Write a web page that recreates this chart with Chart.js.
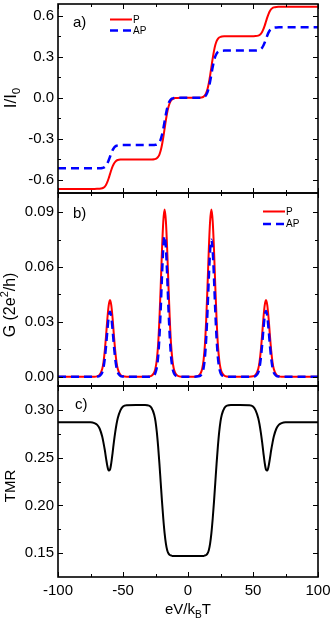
<!DOCTYPE html>
<html>
<head>
<meta charset="utf-8">
<script src="https://cdn.jsdelivr.net/npm/chart.js@4.4.0/dist/chart.umd.min.js"></script>
<style>
html, body { margin: 0; padding: 0; background: #fff; }
#wrap { position: relative; width: 332px; height: 621px; overflow: hidden; }
canvas { position: absolute; left: 0; }
</style>
</head>
<body>
<div id="wrap">
  <canvas id="cA" width="332" height="197" style="top:0px"></canvas>
  <canvas id="cB" width="332" height="200" style="top:190px"></canvas>
  <canvas id="cC" width="332" height="238" style="top:383px"></canvas>
</div>
<script>
// bias eV/kBT (shared by all three panels)
var biasX = [-100,-85,-75,-72,-70,-68,-66,-65,-64,-63,-62,-61,-60,-59,-58,-57,-56,-55,-54,-52,-50,-47,-40,-33,-30,-28,-26,-25,-24,-23,-22,-21,-20,-19,-18,-17,-16,-15,-14,-13,-12,-11,-10,-8,-5,
  0,
  5,8,10,11,12,13,14,15,16,17,18,19,20,21,22,23,24,25,26,28,30,33,40,47,50,52,54,55,56,57,58,59,60,61,62,63,64,65,66,68,70,72,75,85,100];

// a) current I/I0
var currentP = [-0.665,-0.665,-0.665,-0.665,-0.6648,-0.6641,-0.6606,-0.6561,-0.6478,-0.634,-0.6138,-0.5876,-0.5575,-0.5274,-0.5012,-0.481,-0.4672,-0.459,-0.4544,-0.4509,-0.4502,-0.45,-0.45,-0.45,-0.45,-0.4497,-0.4481,-0.4456,-0.4407,-0.4313,-0.414,-0.3852,-0.3429,-0.288,-0.225,-0.162,-0.1071,-0.0648,-0.036,-0.0187,-0.0093,-0.0044,-0.0019,-0.0003,0,
  0,
  0,0.0003,0.0019,0.0044,0.0093,0.0187,0.036,0.0648,0.1071,0.162,0.225,0.288,0.3429,0.3852,0.414,0.4313,0.4407,0.4456,0.4481,0.4497,0.45,0.45,0.45,0.45,0.4502,0.4509,0.4544,0.459,0.4672,0.481,0.5012,0.5274,0.5575,0.5876,0.6138,0.634,0.6478,0.6561,0.6606,0.6641,0.6648,0.665,0.665,0.665,0.665];
var currentAP = [-0.515,-0.515,-0.515,-0.515,-0.515,-0.5147,-0.5129,-0.5101,-0.5045,-0.4943,-0.4779,-0.4558,-0.43,-0.4042,-0.3821,-0.3657,-0.3555,-0.3499,-0.3471,-0.3453,-0.345,-0.345,-0.345,-0.345,-0.345,-0.345,-0.3443,-0.3432,-0.3407,-0.335,-0.3236,-0.3029,-0.2698,-0.2249,-0.1725,-0.1201,-0.0752,-0.0421,-0.0214,-0.01,-0.0043,-0.0018,-0.0007,0,0,
  0,
  0,0,0.0007,0.0018,0.0043,0.01,0.0214,0.0421,0.0752,0.1201,0.1725,0.2249,0.2698,0.3029,0.3236,0.335,0.3407,0.3432,0.3443,0.345,0.345,0.345,0.345,0.345,0.345,0.3453,0.3471,0.3499,0.3555,0.3657,0.3821,0.4042,0.43,0.4558,0.4779,0.4943,0.5045,0.5101,0.5129,0.5147,0.515,0.515,0.515,0.515,0.515];

// b) conductance G (2e^2/h)
var condP = [0,0,0,0,0.0002,0.001,0.0042,0.008,0.0143,0.0227,0.0319,0.0391,0.042,0.0391,0.0319,0.0227,0.0143,0.008,0.0042,0.001,0.0002,0,0,0,0.0001,0.0005,0.0023,0.0046,0.0092,0.0174,0.0311,0.0494,0.0695,0.0851,0.0915,0.0851,0.0695,0.0494,0.0311,0.0174,0.0092,0.0046,0.0023,0.0005,0,
  0,
  0,0.0005,0.0023,0.0046,0.0092,0.0174,0.0311,0.0494,0.0695,0.0851,0.0915,0.0851,0.0695,0.0494,0.0311,0.0174,0.0092,0.0046,0.0023,0.0005,0.0001,0,0,0,0.0002,0.001,0.0042,0.008,0.0143,0.0227,0.0319,0.0391,0.042,0.0391,0.0319,0.0227,0.0143,0.008,0.0042,0.001,0.0002,0,0,0,0];
var condAP = [0,0,0,0,0.0001,0.0004,0.0023,0.005,0.01,0.0171,0.0256,0.0328,0.0356,0.0328,0.0256,0.0171,0.01,0.005,0.0023,0.0004,0.0001,0,0,0,0,0.0002,0.0009,0.0022,0.005,0.0108,0.0216,0.037,0.0554,0.0708,0.077,0.0708,0.0554,0.037,0.0216,0.0108,0.005,0.0022,0.0009,0.0002,0,
  0,
  0,0.0002,0.0009,0.0021,0.0049,0.0105,0.021,0.036,0.054,0.069,0.075,0.069,0.054,0.036,0.021,0.0105,0.0049,0.0021,0.0009,0.0002,0,0,0,0,0.0001,0.0004,0.0023,0.005,0.0101,0.0173,0.0259,0.0331,0.036,0.0331,0.0259,0.0173,0.0101,0.005,0.0023,0.0004,0.0001,0,0,0,0];

// c) TMR
var tmr = [0.287,0.287,0.287,0.2862,0.2845,0.2805,0.272,0.2655,0.258,0.249,0.241,0.2365,0.2375,0.2445,0.255,0.2665,0.2765,0.285,0.2915,0.2995,0.3035,0.3048,0.305,0.305,0.3045,0.302,0.295,0.288,0.277,0.262,0.244,0.224,0.204,0.186,0.171,0.16,0.153,0.1495,0.148,0.1475,0.147,0.147,0.147,0.147,0.147,
  0.147,
  0.147,0.147,0.147,0.147,0.147,0.1475,0.148,0.1495,0.153,0.16,0.171,0.186,0.204,0.224,0.244,0.262,0.277,0.288,0.295,0.302,0.3045,0.305,0.305,0.3048,0.3035,0.2995,0.2915,0.285,0.2765,0.2665,0.255,0.2445,0.2375,0.2365,0.241,0.249,0.258,0.2655,0.272,0.2805,0.2845,0.2862,0.287,0.287,0.287];

// ticks
var xMajor = [-100, -50, 0, 50, 100];
var xMinor = [-75, -25, 25, 75];
var yMajorA = [-0.6, -0.3, 0, 0.3, 0.6];
var yMinorA = [-0.45, -0.15, 0.15, 0.45];
var yMajorB = [0, 0.03, 0.06, 0.09];
var yMinorB = [0.015, 0.045, 0.075];
var yMajorC = [0.15, 0.2, 0.25, 0.3];
var yMinorC = [0.175, 0.225, 0.275];

var FONT = '"Liberation Sans", Arial, Helvetica, sans-serif';

function pts(ys) {
  return biasX.map(function (x, i) { return { x: x, y: ys[i] }; });
}

function richText(ctx, parts, x, y, size, rotate) {
  ctx.save();
  ctx.translate(x, y);
  if (rotate) ctx.rotate(-Math.PI / 2);
  var w = 0;
  parts.forEach(function (p) {
    ctx.font = (p[1] ? size * 0.68 : size) + 'px ' + FONT;
    w += ctx.measureText(p[0]).width;
  });
  var cx = -w / 2;
  ctx.textBaseline = 'middle';
  ctx.textAlign = 'left';
  ctx.fillStyle = '#000';
  parts.forEach(function (p) {
    var s = p[1] ? size * 0.68 : size;
    ctx.font = s + 'px ' + FONT;
    var dy = p[1] === 'sub' ? size * 0.32 : (p[1] === 'sup' ? -size * 0.35 : 0);
    ctx.fillText(p[0], cx, dy);
    cx += ctx.measureText(p[0]).width;
  });
  ctx.restore();
}

function line(ctx, x1, y1, x2, y2) {
  ctx.beginPath(); ctx.moveTo(x1, y1); ctx.lineTo(x2, y2); ctx.stroke();
}

function panelPlugin(p) {
  return {
    id: 'panel' + p.tag,
    afterDraw: function (chart) {
      var ctx = chart.ctx, a = chart.chartArea, xs = chart.scales.x, ys = chart.scales.y;
      ctx.save();
      ctx.strokeStyle = '#000';
      ctx.lineWidth = 1;
      // inward ticks on all four sides
      xMajor.concat(xMinor).forEach(function (v) {
        var px = Math.round(xs.getPixelForValue(v)) + 0.5;
        var len = xMajor.indexOf(v) >= 0 ? 5 : 3;
        line(ctx, px, a.bottom, px, a.bottom - len);
        line(ctx, px, a.top, px, a.top + len);
      });
      p.yMajor.concat(p.yMinor).forEach(function (v) {
        var py = Math.round(ys.getPixelForValue(v)) + 0.5;
        var len = p.yMajor.indexOf(v) >= 0 ? 5 : 3;
        line(ctx, a.left, py, a.left + len, py);
        line(ctx, a.right, py, a.right - len, py);
      });
      ctx.lineWidth = 1.6;
      ctx.strokeRect(a.left, a.top, a.right - a.left, a.bottom - a.top);

      // y tick labels
      ctx.fillStyle = '#000';
      ctx.font = '15px ' + FONT;
      ctx.textAlign = 'right';
      ctx.textBaseline = 'middle';
      p.yMajor.forEach(function (v) {
        ctx.fillText(v.toFixed(p.dec), a.left - 4, ys.getPixelForValue(v));
      });
      // x tick labels
      if (p.xLabels) {
        ctx.textAlign = 'center';
        xMajor.forEach(function (v) {
          ctx.fillText(String(v), xs.getPixelForValue(v), a.bottom + 14);
        });
        richText(ctx, [['eV/k', ''], ['B', 'sub'], ['T', '']], (a.left + a.right) / 2, a.bottom + 33, 15, false);
      }
      // y title
      richText(ctx, p.title, 11, p.titleY, p.titleSize, true);
      // panel label
      ctx.font = '15px ' + FONT;
      ctx.textAlign = 'left';
      ctx.textBaseline = 'middle';
      ctx.fillText(p.label, p.labelX, p.labelY);
      // legend
      if (p.legend) {
        chart.data.datasets.slice().reverse().forEach(function (ds, i) {
          var ly = p.legend.y + i * p.legend.gap;
          ctx.strokeStyle = ds.borderColor;
          ctx.lineWidth = ds.borderWidth;
          ctx.setLineDash(ds.borderDash || []);
          line(ctx, p.legend.x, ly, p.legend.x + 22, ly);
          ctx.setLineDash([]);
          ctx.fillStyle = '#000';
          ctx.font = '10px ' + FONT;
          ctx.fillText(ds.label, p.legend.x + 23, ly + 0.5);
        });
      }
      ctx.restore();
    }
  };
}

function makePanel(id, p) {
  return new Chart(document.getElementById(id), {
    type: 'line',
    data: { datasets: p.datasets },
    options: {
      responsive: false,
      animation: false,
      devicePixelRatio: 1,
      layout: { padding: { left: 58, right: 14, top: p.padTop, bottom: p.padBottom } },
      plugins: { legend: { display: false }, tooltip: { enabled: false } },
      elements: { point: { radius: 0 }, line: { cubicInterpolationMode: 'monotone', fill: false } },
      scales: {
        x: { type: 'linear', min: -100, max: 100, display: false },
        y: { type: 'linear', min: p.yMin, max: p.yMax, display: false }
      }
    },
    plugins: [panelPlugin(p)]
  });
}

makePanel('cA', {
  tag: 'A', padTop: 4, padBottom: 4, yMin: -0.695, yMax: 0.6855,
  yMajor: yMajorA, yMinor: yMinorA, dec: 1,
  title: [['I/I', ''], ['0', 'sub']], titleY: 98, titleSize: 17,
  label: 'a)', labelX: 73, labelY: 23,
  legend: { x: 110, y: 19.5, gap: 11 },
  datasets: [
    { label: 'AP', data: pts(currentAP), borderColor: '#0000ff', borderWidth: 2.5, borderDash: [8, 5] },
    { label: 'P', data: pts(currentP), borderColor: '#ff0000', borderWidth: 2 }
  ]
});

makePanel('cB', {
  tag: 'B', padTop: 3, padBottom: 4, yMin: -0.0051, yMax: 0.10057,
  yMajor: yMajorB, yMinor: yMinorB, dec: 2,
  title: [['G (2e', ''], ['2', 'sup'], ['/h)', '']], titleY: 115, titleSize: 16,
  label: 'b)', labelX: 73, labelY: 24,
  legend: { x: 263, y: 21.5, gap: 12.5 },
  datasets: [
    { label: 'AP', data: pts(condAP), borderColor: '#0000ff', borderWidth: 2.5, borderDash: [8, 5] },
    { label: 'P', data: pts(condP), borderColor: '#ff0000', borderWidth: 2 }
  ]
});

makePanel('cC', {
  tag: 'C', padTop: 3, padBottom: 44, yMin: 0.125, yMax: 0.325,
  yMajor: yMajorC, yMinor: yMinorC, dec: 2,
  title: [['TMR', '']], titleY: 103, titleSize: 15,
  label: 'c)', labelX: 75, labelY: 22, xLabels: true,
  datasets: [
    { label: 'TMR', data: pts(tmr), borderColor: '#000000', borderWidth: 2 }
  ]
});
</script>
</body>
</html>
